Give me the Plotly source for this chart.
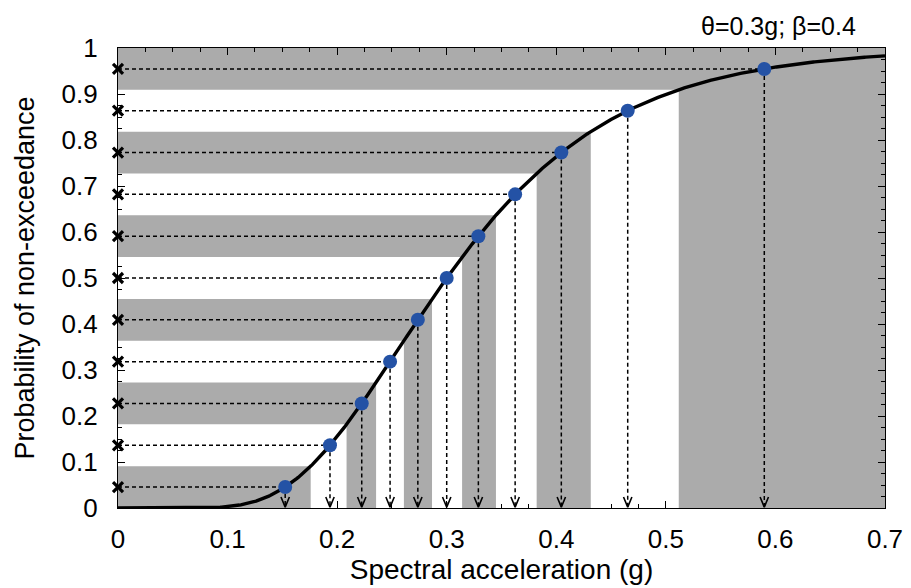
import math
from statistics import NormalDist
import plotly.graph_objects as go

# Lognormal fragility parameters
theta = 0.3   # median (g)
beta = 0.4    # log-standard deviation

# Probability stripes (11 equal-probability bins) and their mid levels
stripe_edges = [0.0, 0.0909, 0.1818, 0.2727, 0.3636, 0.4545,
                0.5455, 0.6364, 0.7273, 0.8182, 0.9091, 1.0]
prob_levels = [0.0455, 0.1364, 0.2273, 0.3182, 0.4091, 0.5,
               0.5909, 0.6818, 0.7727, 0.8636, 0.9545]
shaded_bins = [0, 2, 4, 6, 8, 10]

x_max = 0.7
x_ticks = [0, 0.1, 0.2, 0.3, 0.4, 0.5, 0.6, 0.7]
x_tick_text = ["0", "0.1", "0.2", "0.3", "0.4", "0.5", "0.6", "0.7"]
y_ticks = [0, 0.1, 0.2, 0.3, 0.4, 0.5, 0.6, 0.7, 0.8, 0.9, 1.0]
y_tick_text = ["0", "0.1", "0.2", "0.3", "0.4", "0.5", "0.6", "0.7", "0.8", "0.9", "1"]

std = NormalDist()


def cdf(x):
    if x <= 0:
        return 0.0
    return std.cdf(math.log(x / theta) / beta)


def quantile(p):
    if p <= 0:
        return 0.0
    if p >= 1:
        return x_max
    return min(theta * math.exp(beta * std.inv_cdf(p)), x_max)


FONT = "Liberation Sans, Arial, sans-serif"
GRAY = "#ABABAB"
BLUE = "#2452A5"

fig = go.Figure()

# Shaded stripes: horizontal band out to the curve, vertical band down to the axis
gx, gy = [], []
for i in shaded_bins:
    lo, hi = stripe_edges[i], stripe_edges[i + 1]
    xlo, xhi = quantile(lo), quantile(hi)
    gx += [0, xhi, xhi, 0, 0, None]
    gy += [lo, lo, hi, hi, lo, None]
    gx += [xlo, xhi, xhi, xlo, xlo, None]
    gy += [0, 0, hi, hi, 0, None]
fig.add_trace(go.Scatter(x=gx, y=gy, mode="lines", fill="toself",
                         fillcolor=GRAY, line=dict(width=0, color=GRAY),
                         hoverinfo="skip", showlegend=False))

# Sampled points on the curve
px = [quantile(p) for p in prob_levels]

# Dashed projection lines to both axes
dx, dy = [], []
for x, p in zip(px, prob_levels):
    dx += [0, x, None, x, x, None]
    dy += [p, p, None, p, 0, None]
fig.add_trace(go.Scatter(x=dx, y=dy, mode="lines",
                         line=dict(color="black", width=1.5, dash="4px,3px"),
                         hoverinfo="skip", showlegend=False))

# Open arrowheads where the vertical projections meet the x-axis
plot_w, plot_h = 767, 460
hw = 4.2 * x_max / plot_w
hh = 11.0 / plot_h
ax, ay = [], []
for x in px:
    ax += [x - hw, x, x + hw, None]
    ay += [hh, 0.002, hh, None]
fig.add_trace(go.Scatter(x=ax, y=ay, mode="lines",
                         line=dict(color="black", width=1.6),
                         hoverinfo="skip", showlegend=False, cliponaxis=False))

# Lognormal CDF
cx = [x_max * k / 600 for k in range(601)]
cy = [cdf(x) for x in cx]
fig.add_trace(go.Scatter(x=cx, y=cy, mode="lines",
                         line=dict(color="black", width=3.4),
                         hoverinfo="skip", showlegend=False, cliponaxis=False))

# Sampled probability levels marked on the y-axis
fig.add_trace(go.Scatter(x=[0] * len(prob_levels), y=prob_levels, mode="markers",
                         marker=dict(symbol="x-thin", size=10,
                                     line=dict(color="black", width=3.2)),
                         hoverinfo="skip", showlegend=False, cliponaxis=False))

# Points on the curve
fig.add_trace(go.Scatter(x=px, y=prob_levels, mode="markers",
                         marker=dict(color=BLUE, size=14, line=dict(width=0)),
                         hoverinfo="skip", showlegend=False, cliponaxis=False))

# Invisible trace to carry the mirrored top/right axes
fig.add_trace(go.Scatter(x=[0], y=[0], xaxis="x2", yaxis="y2", mode="markers",
                         marker=dict(opacity=0), hoverinfo="skip", showlegend=False))

tick_font = dict(family=FONT, size=26, color="black")
minor = dict(dtick=0.025, ticks="inside", ticklen=4, tickwidth=1.3, tickcolor="black")
common = dict(ticks="inside", ticklen=7, tickwidth=1.3, tickcolor="black",
              showline=True, linecolor="black", linewidth=1.3,
              showgrid=False, zeroline=False, automargin=False)

fig.update_layout(
    width=911, height=588,
    margin=dict(l=118, r=26, t=48, b=80),
    paper_bgcolor="white", plot_bgcolor="white",
    font=dict(family=FONT, color="black"),
    xaxis=dict(range=[0, x_max], tickvals=x_ticks, ticktext=x_tick_text,
               tickfont=tick_font, ticklabelstandoff=8, layer="below traces",
               minor=minor,
               title=dict(text="Spectral acceleration (g)",
                          font=dict(family=FONT, size=28, color="black"),
                          standoff=3),
               **common),
    yaxis=dict(range=[0, 1], tickvals=y_ticks, ticktext=y_tick_text,
               tickfont=tick_font, ticklabelstandoff=14, layer="below traces",
               minor=minor,
               title=dict(text="Probability of non-exceedance",
                          font=dict(family=FONT, size=27, color="black"),
                          standoff=19),
               **common),
    xaxis2=dict(range=[0, x_max], overlaying="x", side="top", tickvals=x_ticks,
                showticklabels=False, layer="above traces", minor=minor,
                **common),
    yaxis2=dict(range=[0, 1], overlaying="y", side="right", tickvals=y_ticks,
                showticklabels=False, layer="above traces", minor=minor,
                **common),
    annotations=[dict(text="\u03b8=0.3g; \u03b2=0.4", xref="x", yref="paper",
                      x=0.603, y=1, yanchor="bottom", yshift=6, showarrow=False,
                      font=dict(family=FONT, size=25, color="black"))],
)

fig.write_html("out.html")
